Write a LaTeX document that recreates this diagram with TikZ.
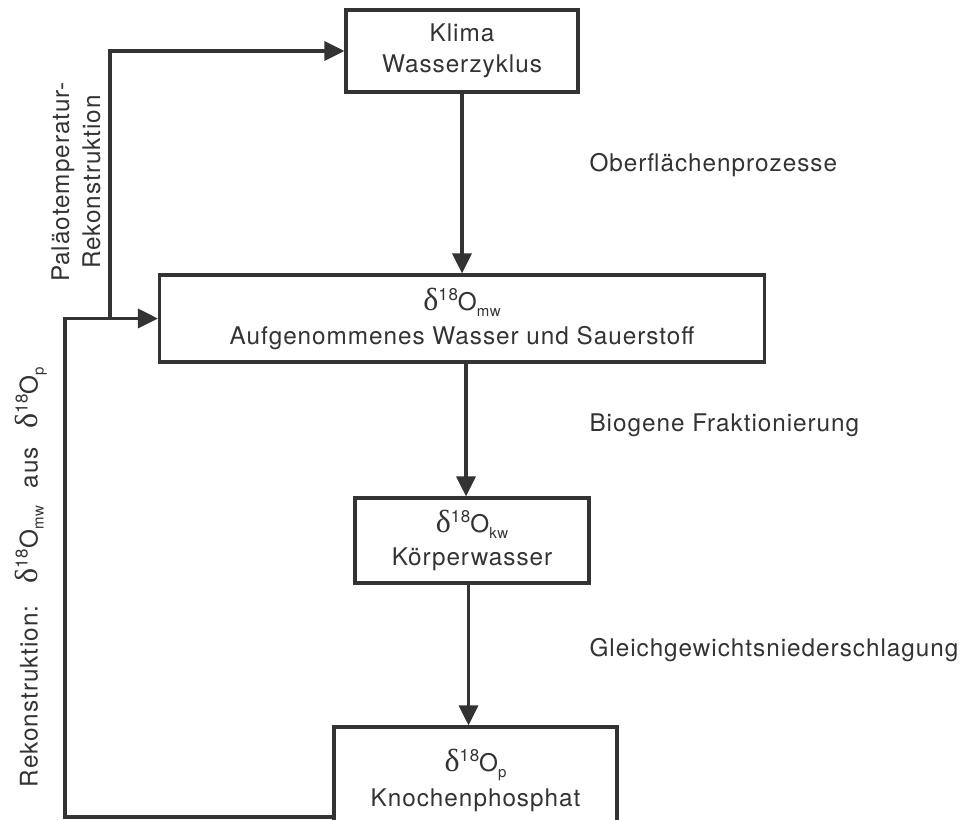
\documentclass[tikz,border=0pt]{standalone}
\usepackage{fontspec}
\setmainfont{TeX Gyre Heros}[LetterSpace=4]
\newfontfamily\grk{Liberation Serif}
\usetikzlibrary{arrows.meta}

\definecolor{ink}{HTML}{333333}
\newcommand\dO[1]{{\grk\fontsize{32}{32}\selectfont δ}\raisebox{10pt}{\fontsize{17}{17}\selectfont 18}O\raisebox{-6pt}{\fontsize{15}{15}\selectfont #1}}

\tikzset{
  box/.style={draw=ink,line width=3.2pt,align=center,inner sep=0pt,text=ink},
  arr/.style={draw=ink,line width=3.2pt,-{Triangle[width=19pt,length=20pt]}},
  lbl/.style={anchor=west,text=ink}
}

\begin{document}
\begin{tikzpicture}[x=1pt,y=-1pt,font=\fontsize{24.3}{31}\selectfont]
\useasboundingbox[fill=white] (0,0) rectangle (965,819);

% boxes
\node[box,minimum width=232pt,minimum height=82pt] (klima) at (462,51) {Klima\\Wasserzyklus};
\node[box,minimum width=605pt,minimum height=87pt] (aufg) at (462,318.5) {\dO{mw}\\[3pt]Aufgenommenes Wasser und Sauerstoff};
\node[box,minimum width=234pt,minimum height=85pt] (koerper) at (472,540.5) {\dO{kw}\\[2pt]Körperwasser};
\node[box,minimum width=283pt,minimum height=106pt] (knochen) at (475.5,780) {\dO{p}\\[4pt]Knochenphosphat};

% process labels
\node[lbl] (ober) at (586,165) {Oberflächenprozesse};
\node[lbl] (bio) at (586,425) {Biogene Fraktionierung};
\node[lbl] (gleich) at (586,650) {Gleichgewichtsniederschlagung};

% reconstruction labels
\node[text=ink,rotate=90,align=center] (palaeo) at (76,182) {Paläotemperatur-\\Rekonstruktion};
\node[text=ink,rotate=90] (rekon) at (31,577) {Rekonstruktion:\hspace{22pt}\dO{mw}\hspace{18pt}aus\hspace{18pt}\dO{p}};

% flow
\draw[arr] (klima.south) -- (klima.south |- aufg.north);
\draw[arr] ([xshift=-6pt]koerper.north |- aufg.south) -- ([xshift=-6pt]koerper.north);
\draw[arr] ([xshift=-7pt]knochen.north |- koerper.south) -- ([xshift=-7pt]knochen.north);

% feedback loops
\coordinate (corner) at (65,817);
\coordinate (split) at (110,318.5);
\draw[arr] (knochen.west |- corner) -- (corner) -- (corner |- aufg.west) -- (aufg.west);
\draw[arr] (split) -- (split |- klima.west) -- (klima.west);
\end{tikzpicture}
\end{document}
